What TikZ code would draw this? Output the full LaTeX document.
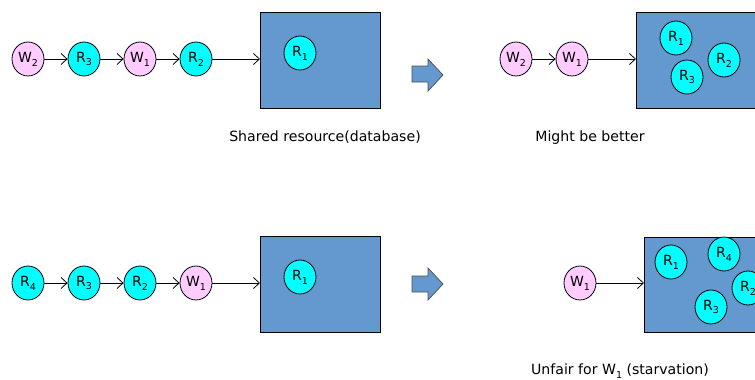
\documentclass[tikz,border=0pt]{standalone}
\usepackage{fontspec}
\setmainfont{DejaVu Sans}
\usetikzlibrary{arrows.meta,shapes.geometric}
\definecolor{boxblue}{HTML}{6399CE}
\definecolor{rcyan}{HTML}{00FFFF}
\definecolor{wpink}{HTML}{FFCCFF}
\tikzset{
  proc/.style={ellipse,draw=black,line width=0.8pt,minimum width=32pt,minimum height=34pt,inner sep=0pt,font=\fontsize{14}{14}\selectfont},
  rd/.style={proc,fill=rcyan},
  wr/.style={proc,fill=wpink},
  res/.style={draw=black,line width=0.9pt,fill=boxblue},
  conn/.style={-{Straight Barb[length=6pt,width=11pt]},line width=0.8pt},
  lbl/.style={font=\fontsize{14.1}{14}\selectfont},
  bigarrow/.style={draw=black!70,line width=0.7pt,fill=boxblue}
}
\newcommand{\sbs}[1]{\raisebox{-0.28em}{\fontsize{9.5}{9.5}\selectfont #1}}
\begin{document}
\begin{tikzpicture}[x=1pt,y=-1pt]
\useasboundingbox (0,0) rectangle (755,380);
\clip (0,0) rectangle (755,380);
% ---------- top left ----------
\draw[res] (260,12) rectangle (380,108);
\coordinate (b1) at (260,59);
\node[wr] (a1) at (28,59) {W\sbs{2}};
\node[rd] (a2) at (84,59) {R\sbs{3}};
\node[wr] (a3) at (140,59) {W\sbs{1}};
\node[rd] (a4) at (196,59) {R\sbs{2}};
\node[rd] (a5) at (300,53) {R\sbs{1}};
\draw[conn] (a1) -- (a2);
\draw[conn] (a2) -- (a3);
\draw[conn] (a3) -- (a4);
\draw[conn] (a4) -- (b1);
\node[lbl] (l1) at (325,137) {Shared resource(database)};
% block arrow top
\draw[bigarrow] (412,66) -- (428,66) -- (428,59) -- (443,75) -- (428,91) -- (428,82) -- (412,82) -- cycle;
% ---------- top right ----------
\draw[res] (636,12) rectangle (790,108);
\coordinate (b2) at (636,59);
\node[wr] (c1) at (516,59) {W\sbs{2}};
\node[wr] (c2) at (572,59) {W\sbs{1}};
\node[rd] (c3) at (676,38) {R\sbs{1}};
\node[rd] (c4) at (724,60) {R\sbs{2}};
\node[rd] (c5) at (687,77) {R\sbs{3}};
\draw[conn] (c1) -- (c2);
\draw[conn] (c2) -- (b2);
\node[lbl] (l2) at (590,138) {Might be better};
% ---------- bottom left ----------
\draw[res] (260,236) rectangle (380,332);
\coordinate (b3) at (260,283);
\node[rd] (d1) at (28,283) {R\sbs{4}};
\node[rd] (d2) at (84,283) {R\sbs{3}};
\node[rd] (d3) at (140,283) {R\sbs{2}};
\node[wr] (d4) at (196,283) {W\sbs{1}};
\node[rd] (d5) at (300,277) {R\sbs{1}};
\draw[conn] (d1) -- (d2);
\draw[conn] (d2) -- (d3);
\draw[conn] (d3) -- (d4);
\draw[conn] (d4) -- (b3);
% block arrow bottom
\draw[bigarrow] (412,276) -- (428,276) -- (428,268) -- (443,284) -- (428,300) -- (428,292) -- (412,292) -- cycle;
% ---------- bottom right ----------
\draw[res] (644,237) rectangle (790,332);
\coordinate (b4) at (644,283);
\node[wr] (e1) at (580,283) {W\sbs{1}};
\node[rd] (e2) at (671,262) {R\sbs{1}};
\node[rd] (e3) at (724,254) {R\sbs{4}};
\node[rd] (e4) at (748,288) {R\sbs{2}};
\node[rd] (e5) at (711,307) {R\sbs{3}};
\draw[conn] (e1) -- (b4);
\node[lbl] (l3) at (620,371) {Unfair for W\sbs{1} (starvation)};
\end{tikzpicture}
\end{document}
